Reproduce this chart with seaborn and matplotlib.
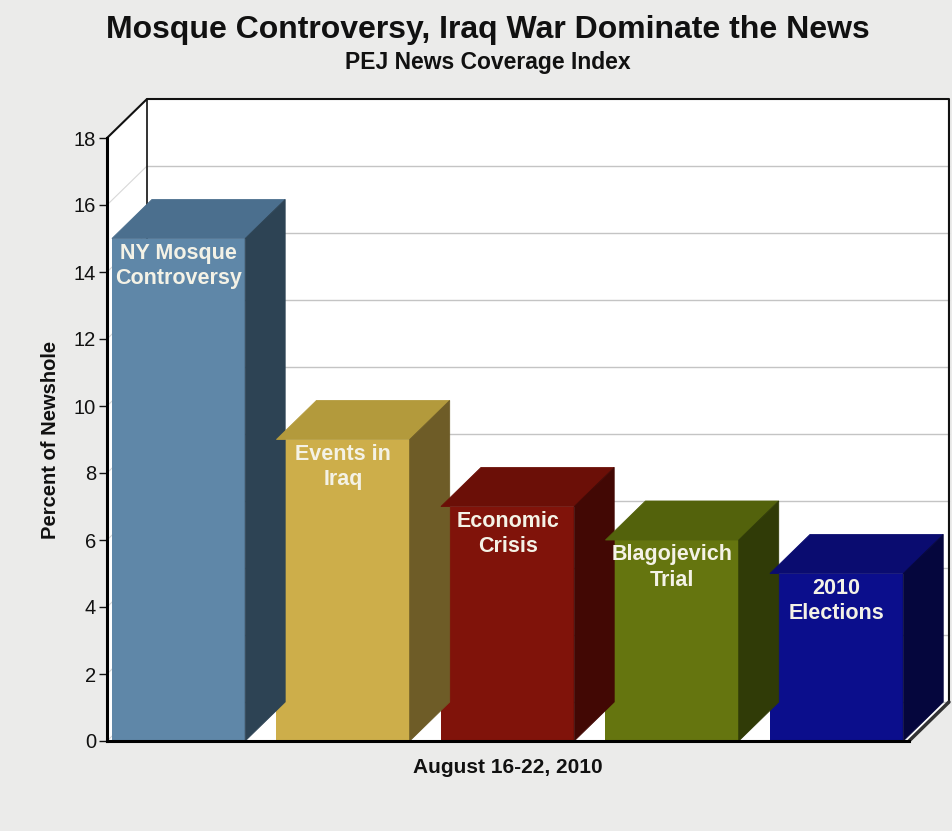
import matplotlib
matplotlib.use("Agg")
import matplotlib.pyplot as plt
from matplotlib.patches import Polygon
import seaborn as sns
import pandas as pd

# Share of the newshole, week of August 16-22, 2010
topics = ["NY Mosque\nControversy", "Events in\nIraq", "Economic\nCrisis",
          "Blagojevich\nTrial", "2010\nElections"]
values = [15, 9, 7, 6, 5]

front_colors = ["#5f87a8", "#cdae4a", "#80130a", "#65750f", "#0b0e8c"]
top_colors = ["#4b6f8e", "#b39a3c", "#6b0f07", "#53620c", "#0a0c70"]
side_colors = ["#2d4354", "#6e5c27", "#420804", "#303b07", "#05063d"]

yticks = list(range(0, 19, 2))

sns.set_theme(style="white")
plt.rcParams["font.family"] = ["Liberation Sans", "DejaVu Sans"]

BG = "#ebebea"
fig = plt.figure(figsize=(9.52, 8.31), dpi=100, facecolor=BG)
ax = fig.add_axes([107 / 952, 90 / 831, 802 / 952, 603 / 831])
ax.set_facecolor("none")

df = pd.DataFrame({"topic": topics, "value": values})
sns.barplot(data=df, x="topic", y="value", hue="topic", palette=front_colors,
            width=0.81, saturation=1, legend=False, ax=ax, zorder=3,
            linewidth=0)
bars = list(ax.patches)

xl, xr = -0.435, 4.44
ax.set_xlim(xl, xr)
ax.set_ylim(0, 18)
dx, dy = 0.243, 1.164  # depth of the 3-D box in data units

# white box: left wall, back wall and floor
box = Polygon([(xl, 0), (xl, 18), (xl + dx, 18 + dy), (xr + dx, 18 + dy),
               (xr + dx, dy), (xr, 0)], closed=True, facecolor="white",
              edgecolor="none", zorder=0, clip_on=False)
ax.add_patch(box)

# grid on back wall and left wall
for v in yticks[:-1]:
    ax.plot([xl + dx, xr + dx], [v + dy, v + dy], color="#c4c4c4", lw=1,
            zorder=1, clip_on=False)
    ax.plot([xl, xl + dx], [v, v + dy], color="#d8d8d8", lw=0.8,
            zorder=1, clip_on=False)

# box outline
ax.plot([xl, xl + dx, xr + dx, xr + dx], [18, 18 + dy, 18 + dy, dy],
        color="#111111", lw=1.5, zorder=2, clip_on=False)
ax.plot([xl + dx, xl + dx], [dy, 18 + dy], color="#111111", lw=1.2,
        zorder=1, clip_on=False)
ax.plot([xr, xr + dx], [0, dy], color="#333333", lw=2.5, zorder=2,
        clip_on=False)
ax.plot([xr - 0.02, xr + dx - 0.02], [0.1, dy + 0.1], color="white", lw=1.2,
        zorder=2, clip_on=False)

# top and side faces of each bar, built from the bar geometry
for i, p in enumerate(bars):
    x0, w, h = p.get_x(), p.get_width(), p.get_height()
    top = Polygon([(x0, h), (x0 + dx, h + dy), (x0 + w + dx, h + dy),
                   (x0 + w, h)], closed=True, facecolor=top_colors[i],
                  edgecolor=top_colors[i], lw=0.6, zorder=3, clip_on=False)
    side = Polygon([(x0 + w, 0), (x0 + w, h), (x0 + w + dx, h + dy),
                    (x0 + w + dx, dy)], closed=True, facecolor=side_colors[i],
                   edgecolor=side_colors[i], lw=0.6, zorder=3, clip_on=False)
    ax.add_patch(top)
    ax.add_patch(side)
    ax.annotate(topics[i], xy=(x0 + w / 2, h), xytext=(0, -3),
                textcoords="offset points", ha="center", va="top",
                color="#f4f2e6", fontsize=15.5, fontweight="bold",
                linespacing=1.3, zorder=5, annotation_clip=False)

# axes styling
for s in ["top", "right"]:
    ax.spines[s].set_visible(False)
for s in ["left", "bottom"]:
    ax.spines[s].set_color("black")
    ax.spines[s].set_linewidth(2.2)
    ax.spines[s].set_zorder(6)
ax.set_xticks([])
ax.set_yticks(yticks)
ax.set_yticklabels([str(t) for t in yticks], fontsize=14.5, color="#111111")
ax.tick_params(axis="y", direction="out", length=6, width=1,
               color="#111111", left=True, pad=2)
ax.set_ylabel("Percent of Newshole", fontsize=14.5, fontweight="bold",
              color="#111111", labelpad=10)
ax.set_xlabel("August 16-22, 2010", fontsize=15, fontweight="bold",
              color="#111111", labelpad=12)

fig.text(488 / 952, 1 - 30 / 831, "Mosque Controversy, Iraq War Dominate the News",
         ha="center", va="center", fontsize=23, fontweight="bold",
         color="#111111")
fig.text(488 / 952, 1 - 62 / 831, "PEJ News Coverage Index", ha="center",
         va="center", fontsize=16.5, fontweight="bold", color="#111111")

fig.savefig("out.png", dpi=100, facecolor=BG)
